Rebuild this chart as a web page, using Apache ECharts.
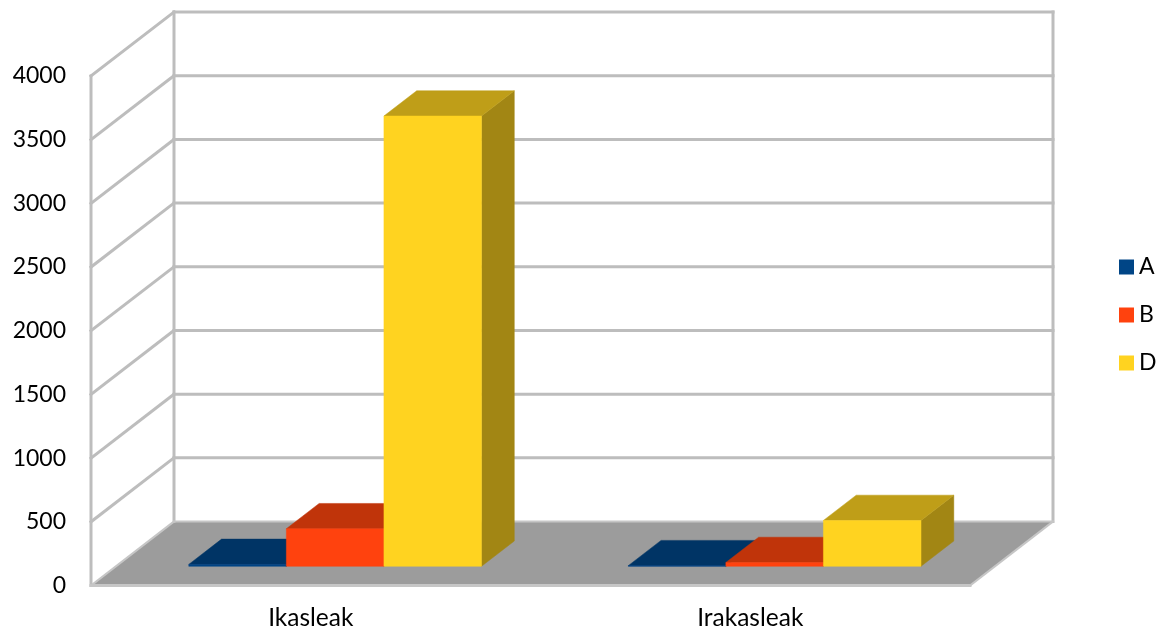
<!DOCTYPE html>
<html><head><meta charset="utf-8">
<style>html,body{margin:0;padding:0;background:#fff}#c{width:1167px;height:635px}</style>
<script src="https://cdn.jsdelivr.net/npm/echarts@6/dist/echarts.min.js"></script>
</head><body><div id="c"></div>
<script>
const categories = ['Ikasleak', 'Irakasleak'];
const valuesA = [15, 5];
const valuesB = [295, 30];
const valuesD = [3535, 360];
const yTicks = [0, 500, 1000, 1500, 2000, 2500, 3000, 3500, 4000];
const seriesNames = ['A', 'B', 'D'];

const FONT = 'Lato, Carlito, sans-serif';
const DEPTH_X = 83, DEPTH_Y = -64;      // floor depth in px
const BAR_OFF = 0.30, BAR_DEPTH = 0.395; // fractions of floor depth
const BAR_W = 0.222;                     // fraction of category band
const GREY = '#bdbdbd';

function poly(pts, fill, stroke) {
  return { type: 'polygon', shape: { points: pts },
    style: { fill: fill, stroke: stroke || fill, lineWidth: stroke ? 1 : 0.5 } };
}
function seg(a, b, w, col) {
  return { type: 'line', shape: { x1: a[0], y1: a[1], x2: b[0], y2: b[1] },
    style: { stroke: col || GREY, lineWidth: w, lineCap: 'square' } };
}

function bar3d(idx, front, top, side) {
  return function (params, api) {
    const cat = api.value(0), val = api.value(1);
    const base = api.coord([cat, 0]), head = api.coord([cat, val]);
    const band = api.size([1, 0])[0], w = band * BAR_W;
    const ox = DEPTH_X * BAR_OFF, oy = DEPTH_Y * BAR_OFF;
    const dx = DEPTH_X * BAR_DEPTH, dy = DEPTH_Y * BAR_DEPTH;
    const x0 = base[0] + ox + (idx - 1.5) * w - 0.5, x1 = x0 + w;
    const yb = base[1] + oy, yt = head[1] + oy;
    return { type: 'group', children: [
      poly([[x1, yb], [x1 + dx, yb + dy], [x1 + dx, yt + dy], [x1, yt]], side),
      poly([[x0, yt], [x1, yt], [x1 + dx, yt + dy], [x0 + dx, yt + dy]], top),
      poly([[x0, yb], [x1, yb], [x1, yt], [x0, yt]], front)
    ] };
  };
}

function wallItem(params, api) {
  const cs = params.coordSys, t = api.value(1);
  const y = api.coord([0, t])[1];
  const xL = cs.x, xR = cs.x + cs.width;
  const kids = [];
  if (t === 0) {
    const yTop = api.coord([0, yTicks[yTicks.length - 1]])[1];
    kids.push(poly([[xL, y], [xR, y], [xR + DEPTH_X, y + DEPTH_Y], [xL + DEPTH_X, y + DEPTH_Y]], '#9c9c9c'));
    kids.push(seg([xL, yTop], [xL, y], 3));
    kids.push(seg([xL + DEPTH_X, yTop + DEPTH_Y], [xL + DEPTH_X, y + DEPTH_Y], 3));
    kids.push(seg([xR + DEPTH_X, yTop + DEPTH_Y], [xR + DEPTH_X, y + DEPTH_Y], 3));
    kids.push(seg([xL, y], [xR, y], 3, '#c6c6c6'));
    kids.push(seg([xR, y], [xR + DEPTH_X, y + DEPTH_Y], 2, '#c6c6c6'));
    kids.push(seg([xL, y], [xL + DEPTH_X, y + DEPTH_Y], 2, '#c6c6c6'));
    kids.push(seg([xL + DEPTH_X, y + DEPTH_Y], [xR + DEPTH_X, y + DEPTH_Y], 2, '#c6c6c6'));
  } else {
    kids.push(seg([xL, y], [xL + DEPTH_X, y + DEPTH_Y], 3));
    kids.push(seg([xL + DEPTH_X, y + DEPTH_Y], [xR + DEPTH_X, y + DEPTH_Y], 3));
  }
  return { type: 'group', children: kids };
}

const toData = vals => vals.map((v, i) => [i, v]);
const chart = echarts.init(document.getElementById('c'), null, { renderer: 'canvas' });
chart.setOption({
  animation: false,
  backgroundColor: '#fff',
  grid: { left: 91, right: 197, top: 76, bottom: 49.5 },
  xAxis: { type: 'category', data: categories,
    axisLine: { show: false }, axisTick: { show: false }, splitLine: { show: false },
    axisLabel: { color: '#000', fontFamily: FONT, fontSize: 24.5, margin: 20 } },
  yAxis: { type: 'value', min: 0, max: 4000, interval: 500,
    axisLine: { show: false }, axisTick: { show: false }, splitLine: { show: false },
    axisLabel: { color: '#000', fontFamily: FONT, fontSize: 23, margin: 25, formatter: v => String(v) } },
  legend: { orient: 'vertical', left: 1114, top: 248, itemWidth: 15, itemHeight: 15, itemGap: 20,
    icon: 'rect', data: seriesNames, selectedMode: false,
    textStyle: { color: '#000', fontFamily: FONT, fontSize: 23, lineHeight: 28 } },
  series: [
    { type: 'custom', name: 'walls', silent: true, z: 1, renderItem: wallItem,
      encode: { x: 0, y: 1 }, data: yTicks.map(t => [0, t]) },
    { type: 'custom', name: seriesNames[0], z: 2, itemStyle: { color: '#004586' },
      renderItem: bar3d(0, '#004586', '#003465', '#002f5c'), encode: { x: 0, y: 1 }, data: toData(valuesA) },
    { type: 'custom', name: seriesNames[1], z: 3, itemStyle: { color: '#ff420e' },
      renderItem: bar3d(1, '#ff420e', '#c0340a', '#a82c08'), encode: { x: 0, y: 1 }, data: toData(valuesB) },
    { type: 'custom', name: seriesNames[2], z: 4, itemStyle: { color: '#ffd320' },
      renderItem: bar3d(2, '#ffd320', '#bf9e18', '#a28614'), encode: { x: 0, y: 1 }, data: toData(valuesD) }
  ]
});
</script></body></html>
